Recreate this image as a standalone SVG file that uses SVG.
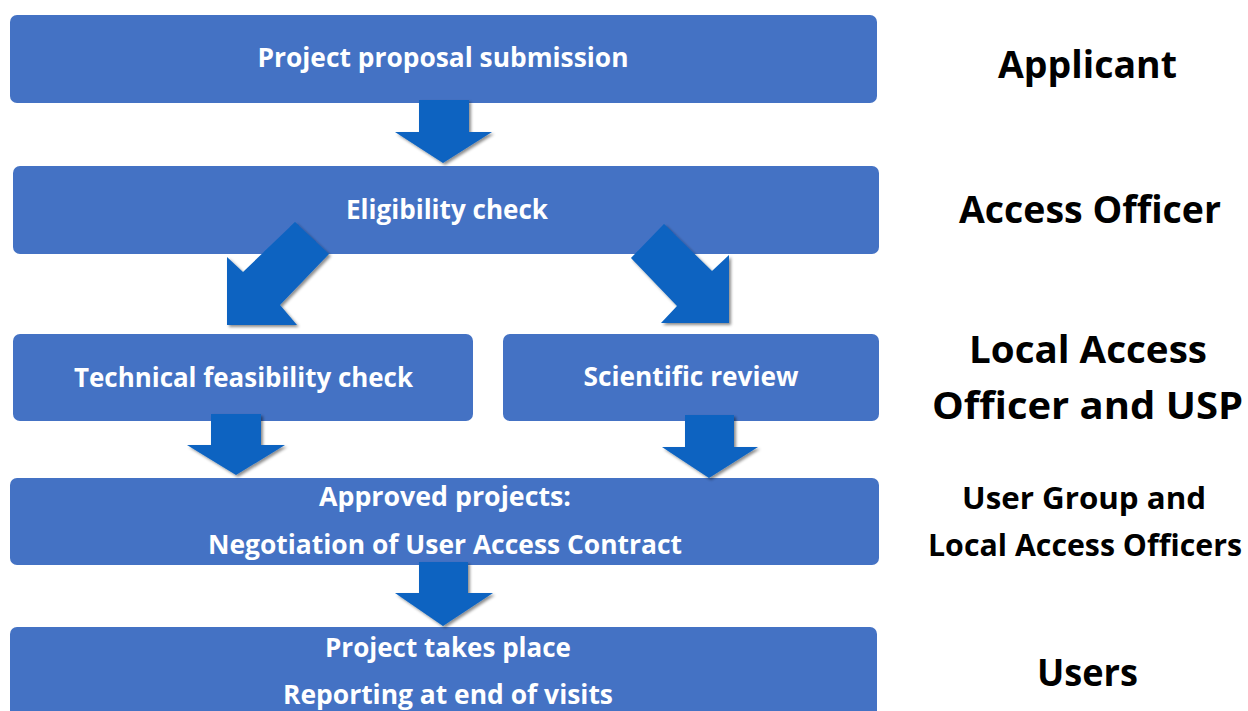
<svg xmlns="http://www.w3.org/2000/svg" width="1248" height="711" viewBox="0 0 1248 711">
  <defs>
    <filter id="shadow" x="-20%" y="-20%" width="140%" height="140%">
      <feDropShadow dx="2" dy="2" stdDeviation="1.5" flood-color="#000" flood-opacity="0.45"/>
    </filter>
  </defs>
  <style>
    .box { fill: #4472C4; }
    .arrow { fill: #0A63C1; filter: url(#shadow); }
    .step { font-family: "Open Sans", "Liberation Sans", sans-serif; font-weight: 700; font-size: 26px; fill: #FFFFFF; text-anchor: middle; }
    .role { font-family: "Open Sans", "Liberation Sans", sans-serif; font-weight: 700; font-size: 37px; fill: #000000; text-anchor: middle; }
    .role-sm { font-family: "Open Sans", "Liberation Sans", sans-serif; font-weight: 700; font-size: 30px; fill: #000000; text-anchor: middle; }
  </style>

  <rect width="1248" height="711" fill="#FFFFFF"/>

  <!-- process steps -->
  <g id="proposal">
    <rect class="box" x="10" y="15" width="867" height="88" rx="7"/>
    <text class="step" x="443" y="67" textLength="371" lengthAdjust="spacingAndGlyphs">Project proposal submission</text>
  </g>
  <g id="eligibility">
    <rect class="box" x="13" y="166" width="866" height="88" rx="7"/>
    <text class="step" x="447" y="219" textLength="202" lengthAdjust="spacingAndGlyphs">Eligibility check</text>
  </g>
  <g id="feasibility">
    <rect class="box" x="13" y="334" width="460" height="87" rx="7"/>
    <text class="step" x="243.5" y="387" textLength="339" lengthAdjust="spacingAndGlyphs">Technical feasibility check</text>
  </g>
  <g id="review">
    <rect class="box" x="503" y="334" width="376" height="87" rx="7"/>
    <text class="step" x="691" y="386" textLength="215" lengthAdjust="spacingAndGlyphs">Scientific review</text>
  </g>
  <g id="contract">
    <rect class="box" x="10" y="478" width="869" height="87" rx="7"/>
    <text class="step" x="445" y="506" textLength="252" lengthAdjust="spacingAndGlyphs">Approved projects:</text>
    <text class="step" x="445" y="554" textLength="474" lengthAdjust="spacingAndGlyphs">Negotiation of User Access Contract</text>
  </g>
  <g id="project">
    <rect class="box" x="10" y="627" width="867" height="100" rx="7"/>
    <text class="step" x="448" y="657" textLength="246" lengthAdjust="spacingAndGlyphs">Project takes place</text>
    <text class="step" x="448" y="704" textLength="330" lengthAdjust="spacingAndGlyphs">Reporting at end of visits</text>
  </g>

  <!-- block arrows between steps -->
  <g id="connectors">
    <polygon class="arrow" points="419,100 469,100 469,132 492,132 443,163 395,132 419,132"/>
    <polygon class="arrow" points="295,222 329,254 280,305 297,325 227,325 227,257 243,272"/>
    <polygon class="arrow" points="664,224 712,271 729,255 729,323 661,323 677,306 631,258"/>
    <polygon class="arrow" points="211,414 261,414 261,445 285,445 236,475 187,445 211,445"/>
    <polygon class="arrow" points="685,415 734,415 734,447 758,447 709,478 662,447 685,447"/>
    <polygon class="arrow" points="419,562 468,562 468,593 493,593 443,626 395,593 419,593"/>
  </g>

  <!-- responsible parties -->
  <g id="role-applicant">
    <text class="role" x="1087.5" y="78" textLength="179" lengthAdjust="spacingAndGlyphs">Applicant</text>
  </g>
  <g id="role-access-officer">
    <text class="role" x="1090" y="223" textLength="262" lengthAdjust="spacingAndGlyphs">Access Officer</text>
  </g>
  <g id="role-local-officer">
    <text class="role" x="1088" y="363" textLength="238" lengthAdjust="spacingAndGlyphs">Local Access</text>
    <text class="role" x="1087.5" y="419" textLength="311" lengthAdjust="spacingAndGlyphs">Officer and USP</text>
  </g>
  <g id="role-user-group">
    <text class="role-sm" x="1084" y="509" textLength="244" lengthAdjust="spacingAndGlyphs">User Group and</text>
    <text class="role-sm" x="1085" y="556" textLength="314" lengthAdjust="spacingAndGlyphs">Local Access Officers</text>
  </g>
  <g id="role-users">
    <text class="role" x="1087.5" y="686" textLength="101" lengthAdjust="spacingAndGlyphs">Users</text>
  </g>
</svg>
